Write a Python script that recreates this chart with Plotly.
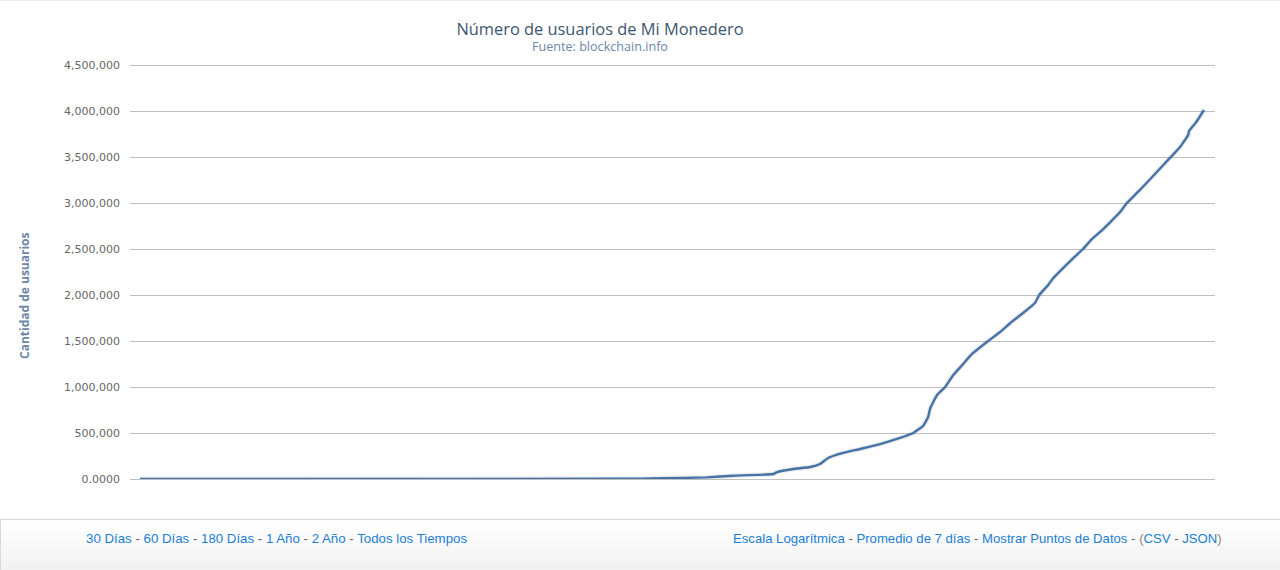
import plotly.graph_objects as go

# Data
dias = [0, 1130, 1229, 1332, 1394, 1488, 1497, 1535, 1575, 1598, 1617, 1652, 1692, 1739, 1786, 1817,
        1840, 1852, 1857, 1873, 1892, 1911, 1932, 1955, 1993, 2021, 2045, 2075, 2103, 2113, 2134,
        2146, 2169, 2193, 2216, 2237, 2256, 2280, 2303, 2319, 2345, 2374, 2409, 2444, 2463, 2465,
        2482, 2500]
usuarios = [0, 2000, 7600, 18000, 36000, 54000, 76000, 109000, 130000, 163000, 228000, 283000,
            326000, 380000, 446000, 500000, 576000, 674000, 772000, 913000, 1000000, 1130000,
            1239000, 1359000, 1500000, 1598000, 1696000, 1804000, 1913000, 2000000, 2109000,
            2185000, 2293000, 2402000, 2500000, 2609000, 2685000, 2793000, 2902000, 3000000,
            3120000, 3261000, 3435000, 3609000, 3739000, 3783000, 3880000, 4011000]
marcas_y = [0, 500000, 1000000, 1500000, 2000000, 2500000, 3000000, 3500000, 4000000, 4500000]
etiquetas_y = ["0.0000", "500,000", "1,000,000", "1,500,000", "2,000,000", "2,500,000",
               "3,000,000", "3,500,000", "4,000,000", "4,500,000"]
enlaces_izq = ["30 Días", "60 Días", "180 Días", "1 Año", "2 Año", "Todos los Tiempos"]
enlaces_der = ["Escala Logarítmica", "Promedio de 7 días", "Mostrar Puntos de Datos"]

W, H = 1280, 570
ML, MR, MT, MB = 130, 65, 63, 91
AZUL = "#1a7fd4"
GRIS = "#666666"


def link(t):
    return f'<span style="color:{AZUL}">{t}</span>'


sep = f'<span style="color:{GRIS}"> - </span>'
texto_izq = sep.join(link(t) for t in enlaces_izq)
texto_der = sep.join(link(t) for t in enlaces_der) + sep + \
    f'<span style="color:#a08060">(</span>{link("CSV")}{sep}{link("JSON")}<span style="color:#a08060">)</span>'

fig = go.Figure()
fig.add_trace(go.Scatter(x=dias, y=usuarios, mode="lines", hoverinfo="skip", showlegend=False,
                         line=dict(color="rgba(0,0,0,0.07)", width=5, shape="spline", smoothing=0.3)))
fig.add_trace(go.Scatter(x=dias, y=usuarios, mode="lines", showlegend=False,
                         line=dict(color="#4572a7", width=2.4, shape="spline", smoothing=0.3)))


def px(p):
    return (p - ML) / (W - ML - MR)


def py(p):
    return (H - MB - p) / (H - MB - MT)


shapes = []
# Footer gradient built from thin strips
for i in range(50):
    v = 255 - int(14 * i / 49)
    shapes.append(dict(type="rect", xref="paper", yref="paper", layer="below", line_width=0,
                       x0=px(0), x1=px(W), y0=py(520 + i), y1=py(521 + i),
                       fillcolor=f"rgb({v},{v},{v})"))
shapes.append(dict(type="line", xref="paper", yref="paper", x0=px(0), x1=px(W),
                   y0=py(519.5), y1=py(519.5), line=dict(color="#d9d9d9", width=1)))
shapes.append(dict(type="line", xref="paper", yref="paper", x0=px(0.5), x1=px(0.5),
                   y0=py(520), y1=py(570), line=dict(color="#d9d9d9", width=1)))
shapes.append(dict(type="line", xref="paper", yref="paper", x0=px(0), x1=px(W),
                   y0=py(0.5), y1=py(0.5), line=dict(color="#eeeeee", width=1)))

annotations = [
    dict(text="Fuente: blockchain.info", xref="paper", yref="paper", x=px(600), y=py(47),
         xanchor="center", yanchor="middle", showarrow=False,
         font=dict(family="Open Sans, sans-serif", size=12.6, color="#6d87a8")),
    dict(text="Cantidad de usuarios", xref="paper", yref="paper", x=px(24), y=py(296),
         xanchor="center", yanchor="middle", showarrow=False, textangle=-90,
         font=dict(family="Open Sans, sans-serif", size=12, weight=700, color="#6d87a8")),
    dict(text=texto_izq, xref="paper", yref="paper", x=px(84), y=py(538),
         xanchor="left", yanchor="middle", showarrow=False,
         font=dict(family="Liberation Sans, Arial, sans-serif", size=13.27, color=AZUL)),
    dict(text=texto_der, xref="paper", yref="paper", x=px(1224), y=py(538),
         xanchor="right", yanchor="middle", showarrow=False,
         font=dict(family="Liberation Sans, Arial, sans-serif", size=13.15, color=AZUL)),
]

fig.update_layout(
    width=W, height=H,
    margin=dict(l=ML, r=MR, t=MT, b=MB, pad=0),
    paper_bgcolor="white", plot_bgcolor="white",
    title=dict(text="Número de usuarios de Mi Monedero", x=600 / W, xanchor="center",
               y=1 - 29 / H, yanchor="middle",
               font=dict(family="Open Sans, sans-serif", size=16.4, color="#3e576f")),
    xaxis=dict(visible=False, range=[-23.5, 2526]),
    yaxis=dict(range=[0, 4521739], tickmode="array", tickvals=marcas_y, ticktext=etiquetas_y,
               showgrid=True, gridcolor="#c0c0c0", gridwidth=1, zeroline=True, zerolinecolor="#c0c0c0",
               zerolinewidth=1, showline=False, ticks="", ticklabelstandoff=9,
               tickfont=dict(family="DejaVu Sans, sans-serif", size=11, color="#666666")),
    shapes=shapes,
    annotations=annotations,
)
fig.write_html("out.html", config={"displayModeBar": False},
               post_script="document.body.style.margin='0';document.body.style.overflow='hidden';")
